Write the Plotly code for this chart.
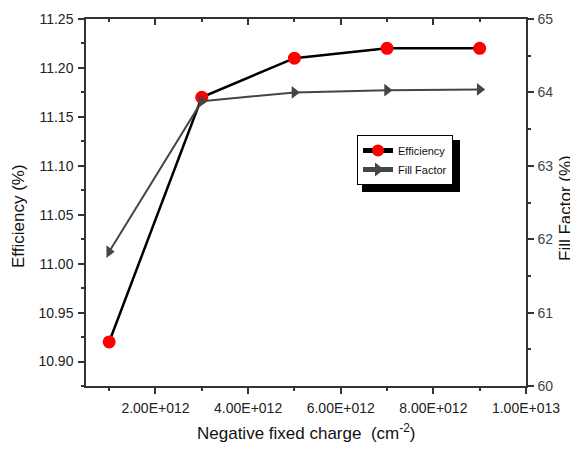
import plotly.graph_objects as go

charge = [1e12, 3e12, 5e12, 7e12, 9e12]
efficiency = [10.92, 11.17, 11.21, 11.22, 11.22]
fill_factor = [61.83, 63.88, 64.00, 64.03, 64.04]
x_tickvals = [2e12, 4e12, 6e12, 8e12, 1e13]
x_ticktext = ["2.00E+012", "4.00E+012", "6.00E+012", "8.00E+012", "1.00E+013"]

FONT = "Liberation Sans, Arial, sans-serif"

# page body has an 8px default margin; plot area in screen px: x 86..526, y 19..386
PX0, PX1, PY0, PY1 = 86, 526, 19, 386
PW, PH = PX1 - PX0, PY1 - PY0


def px(x):
    return (x - PX0) / PW


def py(y):
    return (PY1 - y) / PH


fig = go.Figure()
fig.add_trace(go.Scatter(
    x=charge, y=efficiency, name="Efficiency", mode="lines+markers",
    line=dict(color="black", width=2.5),
    marker=dict(symbol="circle", size=13, color="red"),
    yaxis="y", xaxis="x"))
fig.add_trace(go.Scatter(
    x=charge, y=fill_factor, name="Fill Factor", mode="lines+markers",
    line=dict(color="#454545", width=2),
    marker=dict(symbol="triangle-right", size=11, color="#454545"),
    yaxis="y2", xaxis="x"))
fig.add_trace(go.Scatter(x=[charge[0]], y=[efficiency[0]], xaxis="x2", yaxis="y",
                         mode="markers", marker=dict(opacity=0), showlegend=False,
                         hoverinfo="skip"))

axis_common = dict(showline=True, linecolor="#333", linewidth=1.5, showgrid=False,
                   zeroline=False, ticklen=6, tickwidth=1.5, tickcolor="#333",
                   automargin=False)
minor_common = dict(ticklen=3, tickwidth=1.5, tickcolor="#333")

fig.update_layout(
    width=570, height=445,
    margin=dict(l=PX0 - 8, r=578 - PX1, t=PY0 - 8, b=453 - PY1),
    paper_bgcolor="white", plot_bgcolor="white",
    font=dict(family=FONT, size=14, color="#222"),
    xaxis=dict(range=[0.5e12, 1e13], tickvals=x_tickvals, ticktext=x_ticktext,
               ticks="outside", ticklabelstandoff=2,
               minor=dict(tickvals=[1e12, 3e12, 5e12, 7e12, 9e12], ticks="outside",
                          **minor_common),
               tickfont=dict(size=14, color="#222"),
               **axis_common),
    xaxis2=dict(range=[0.5e12, 1e13], overlaying="x", side="top", tickvals=x_tickvals,
                showticklabels=False, ticks="inside",
                minor=dict(tickvals=[1e12, 3e12, 5e12, 7e12, 9e12], ticks="inside",
                           **minor_common),
                **axis_common),
    yaxis=dict(range=[10.875, 11.25], dtick=0.05, tickformat=".2f", ticks="outside",
               ticklabelstandoff=2,
               minor=dict(dtick=0.025, ticks="outside", **minor_common),
               tickfont=dict(size=14, color="#222"),
               **axis_common),
    yaxis2=dict(range=[60, 65], dtick=1, overlaying="y", side="right", ticks="outside",
                ticklabelstandoff=1,
                minor=dict(dtick=0.5, ticks="outside", **minor_common),
                tickfont=dict(size=14, color="#444"),
                **axis_common),
    legend=dict(x=px(357), y=py(135), xanchor="left", yanchor="top",
                bgcolor="white", bordercolor="black", borderwidth=1,
                font=dict(size=11, color="#111"), itemwidth=30,
                itemsizing="constant", tracegroupgap=0),
    showlegend=True,
)

fig.add_annotation(text="Efficiency (%)", xref="paper", yref="paper",
                   x=px(18), y=py(216), textangle=-90,
                   xanchor="center", yanchor="middle",
                   showarrow=False, font=dict(size=17, color="#111"))
fig.add_annotation(text="Fill Factor (%)", xref="paper", yref="paper",
                   x=px(566), y=py(208), textangle=-90,
                   xanchor="center", yanchor="middle",
                   showarrow=False, font=dict(size=17, color="#111"))
fig.add_annotation(text="Negative fixed charge  (cm<sup>-2</sup>)", xref="paper",
                   yref="paper", x=px(306), y=py(432),
                   xanchor="center", yanchor="middle",
                   showarrow=False, font=dict(size=17, color="#111"))

# legend drop shadow
fig.add_shape(type="rect", xref="paper", yref="paper",
              x0=px(362), x1=px(460), y0=py(192), y1=py(140),
              fillcolor="black", line=dict(width=0), layer="above")

fig.write_html("out.html")
